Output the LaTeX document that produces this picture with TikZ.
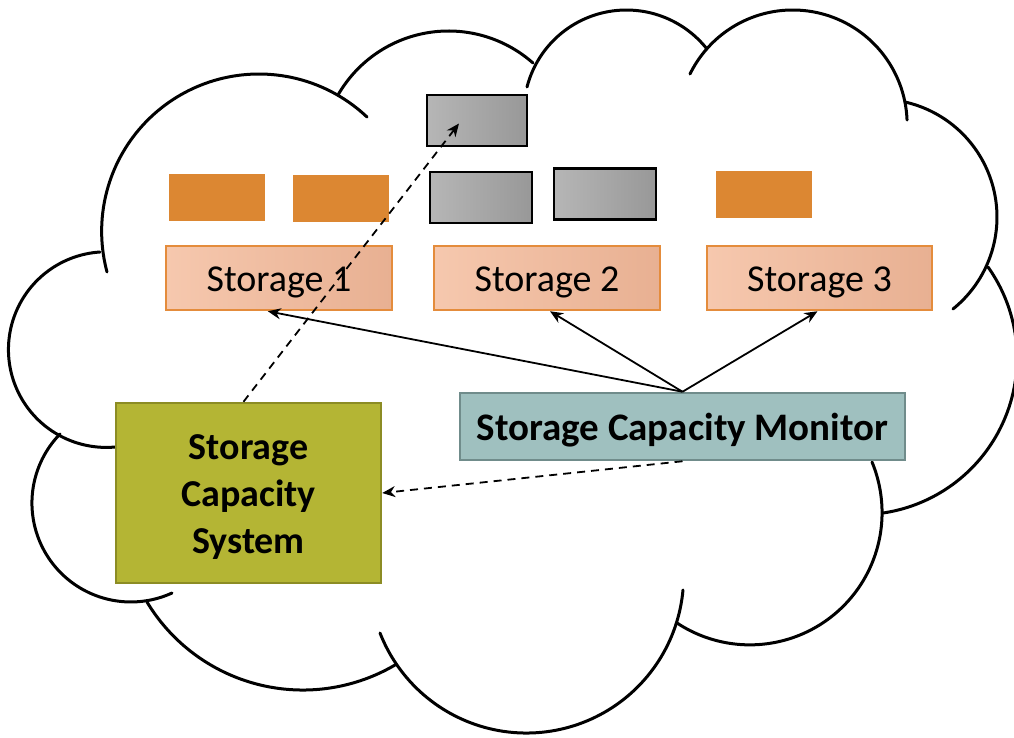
\documentclass[tikz,border=0pt]{standalone}
\usepackage{fontspec}
\setmainfont{Carlito}
\usetikzlibrary{arrows.meta,calc}
\definecolor{orangefill}{RGB}{220,135,50}
\definecolor{stL}{RGB}{246,200,174}
\definecolor{stR}{RGB}{232,176,146}
\definecolor{stborder}{RGB}{228,140,60}
\definecolor{grayL}{RGB}{182,182,182}
\definecolor{grayR}{RGB}{152,152,152}
\definecolor{monfill}{RGB}{159,192,191}
\definecolor{monborder}{RGB}{112,140,139}
\definecolor{scsfill}{RGB}{180,181,52}
\definecolor{scsborder}{RGB}{140,140,36}
% arc through three points A, B, C (pixel units)
\newcommand\cloudarc[6]{%
  \pgfmathsetmacro\cAx{#1/100}\pgfmathsetmacro\cAy{#2/100}%
  \pgfmathsetmacro\cBx{#3/100}\pgfmathsetmacro\cBy{#4/100}%
  \pgfmathsetmacro\cCx{#5/100}\pgfmathsetmacro\cCy{#6/100}%
  \pgfmathsetmacro\cD{2*(\cAx*(\cBy-\cCy)+\cBx*(\cCy-\cAy)+\cCx*(\cAy-\cBy))}%
  \pgfmathsetmacro\cSA{\cAx*\cAx+\cAy*\cAy}%
  \pgfmathsetmacro\cSB{\cBx*\cBx+\cBy*\cBy}%
  \pgfmathsetmacro\cSC{\cCx*\cCx+\cCy*\cCy}%
  \pgfmathsetmacro\cUx{(\cSA*(\cBy-\cCy)+\cSB*(\cCy-\cAy)+\cSC*(\cAy-\cBy))/\cD}%
  \pgfmathsetmacro\cUy{(\cSA*(\cCx-\cBx)+\cSB*(\cAx-\cCx)+\cSC*(\cBx-\cAx))/\cD}%
  \pgfmathsetmacro\cR{100*veclen(\cAx-\cUx,\cAy-\cUy)}%
  \pgfmathsetmacro\cThA{atan2(\cAy-\cUy,\cAx-\cUx)}%
  \pgfmathsetmacro\cThB{atan2(\cBy-\cUy,\cBx-\cUx)}%
  \pgfmathsetmacro\cThC{atan2(\cCy-\cUy,\cCx-\cUx)}%
  \pgfmathsetmacro\cTB{Mod(\cThB-\cThA,360)}%
  \pgfmathsetmacro\cTC{Mod(\cThC-\cThA,360)}%
  \pgfmathsetmacro\cThE{ifthenelse(\cTB<\cTC,\cThA+\cTC,\cThA-360+\cTC)}%
  \pgfmathsetmacro\cPx{100*\cUx}\pgfmathsetmacro\cPy{100*\cUy}%
  \draw[cloudline] plot[domain=\cThA:\cThE,samples=90] ({\cPx+\cR*cos(\x)},{\cPy+\cR*sin(\x)});%
}
\newcommand\lowertext[1]{\raisebox{-4pt}[\height][\depth]{#1}}
\begin{document}
\begin{tikzpicture}[x=1pt,y=-1pt,
  cloudline/.style={line width=3pt,line cap=round},
  storagebox/.style={draw=stborder,line width=2.5pt,left color=stL,right color=stR,
    minimum width=226pt,minimum height=64pt,inner sep=0pt,font=\fontsize{38}{44}\selectfont},
  orangebox/.style={fill=orangefill,minimum width=96pt,minimum height=47pt,inner sep=0pt},
  graybox/.style={draw=black,line width=2.5pt,left color=grayL,right color=grayR,
    minimum width=100pt,minimum height=51pt,inner sep=0pt},
  monbox/.style={draw=monborder,line width=2.5pt,fill=monfill,minimum width=445pt,
    minimum height=67pt,inner sep=0pt,font=\bfseries\fontsize{39}{44}\selectfont},
  scsbox/.style={draw=scsborder,line width=2.5pt,fill=scsfill,minimum width=265pt,
    minimum height=180pt,inner sep=0pt,font=\bfseries\fontsize{38}{47}\selectfont},
  solidarrow/.style={line width=1.8pt,-{Stealth[length=13pt,width=11pt]}},
  dasharrow/.style={line width=1.8pt,dash pattern=on 8pt off 6pt,-{Stealth[length=13pt,width=11pt]}}
]
\useasboundingbox (0,0) rectangle (1014,737);
\fill[white] (0,0) rectangle (1014,737);
% cloud
\begin{scope}
\clip (0,0) rectangle (1014,737);
\cloudarc{107}{272}{260}{74}{367}{117}
\cloudarc{338}{95}{447}{31}{533}{63}
\cloudarc{527}{87}{627}{10}{707}{49}
\cloudarc{690}{74}{793}{10}{907}{120}
\cloudarc{905}{102}{997}{217}{953}{309}
\cloudarc{988}{267}{1013}{393}{883}{513}
\cloudarc{872}{462}{827}{620}{677}{623}
\cloudarc{683}{590}{523}{733}{380}{633}
\cloudarc{395}{665}{300}{690}{147}{602}
\cloudarc{60}{434}{50}{560}{172}{593}
\cloudarc{100}{252}{9}{360}{115}{447}
\end{scope}
% boxes
\node[orangebox] (o1) at (217,197.5) {};
\node[orangebox] (o2) at (341,198.5) {};
\node[orangebox] (o3) at (764,194.5) {};
\node[graybox] (g1) at (477,120.5) {};
\node[graybox,minimum width=102pt] (g2) at (481,197.5) {};
\node[graybox,minimum width=102pt] (g3) at (605,194) {};
\node[storagebox] (s1) at (279,278) {\lowertext{Storage 1}};
\node[storagebox] (s2) at (547,278) {\lowertext{Storage 2}};
\node[storagebox,minimum width=225pt] (s3) at (819.5,278) {\lowertext{Storage 3}};
\node[monbox] (m) at (682.5,426.5) {\lowertext{Storage Capacity Monitor}};
\node[scsbox] (scs) at (248.5,493) {\lowertext{\begin{tabular}{@{}c@{}}Storage\\Capacity\\System\end{tabular}}};
\coordinate (gt) at ($(g1.center)+(-18,3)$);
% connectors
\draw[solidarrow] (m.north) -- ($(s1.south west)!0.451!(s1.south east)$);
\draw[solidarrow] (m.north) -- ($(s2.south)+(3,0)$);
\draw[solidarrow] (m.north) -- ($(s3.south)+(-2,0)$);
\draw[dasharrow] (m.south) -- (scs.east);
\draw[dasharrow] ($(scs.north)+(-5,0)$) -- (gt);
\end{tikzpicture}
\end{document}
